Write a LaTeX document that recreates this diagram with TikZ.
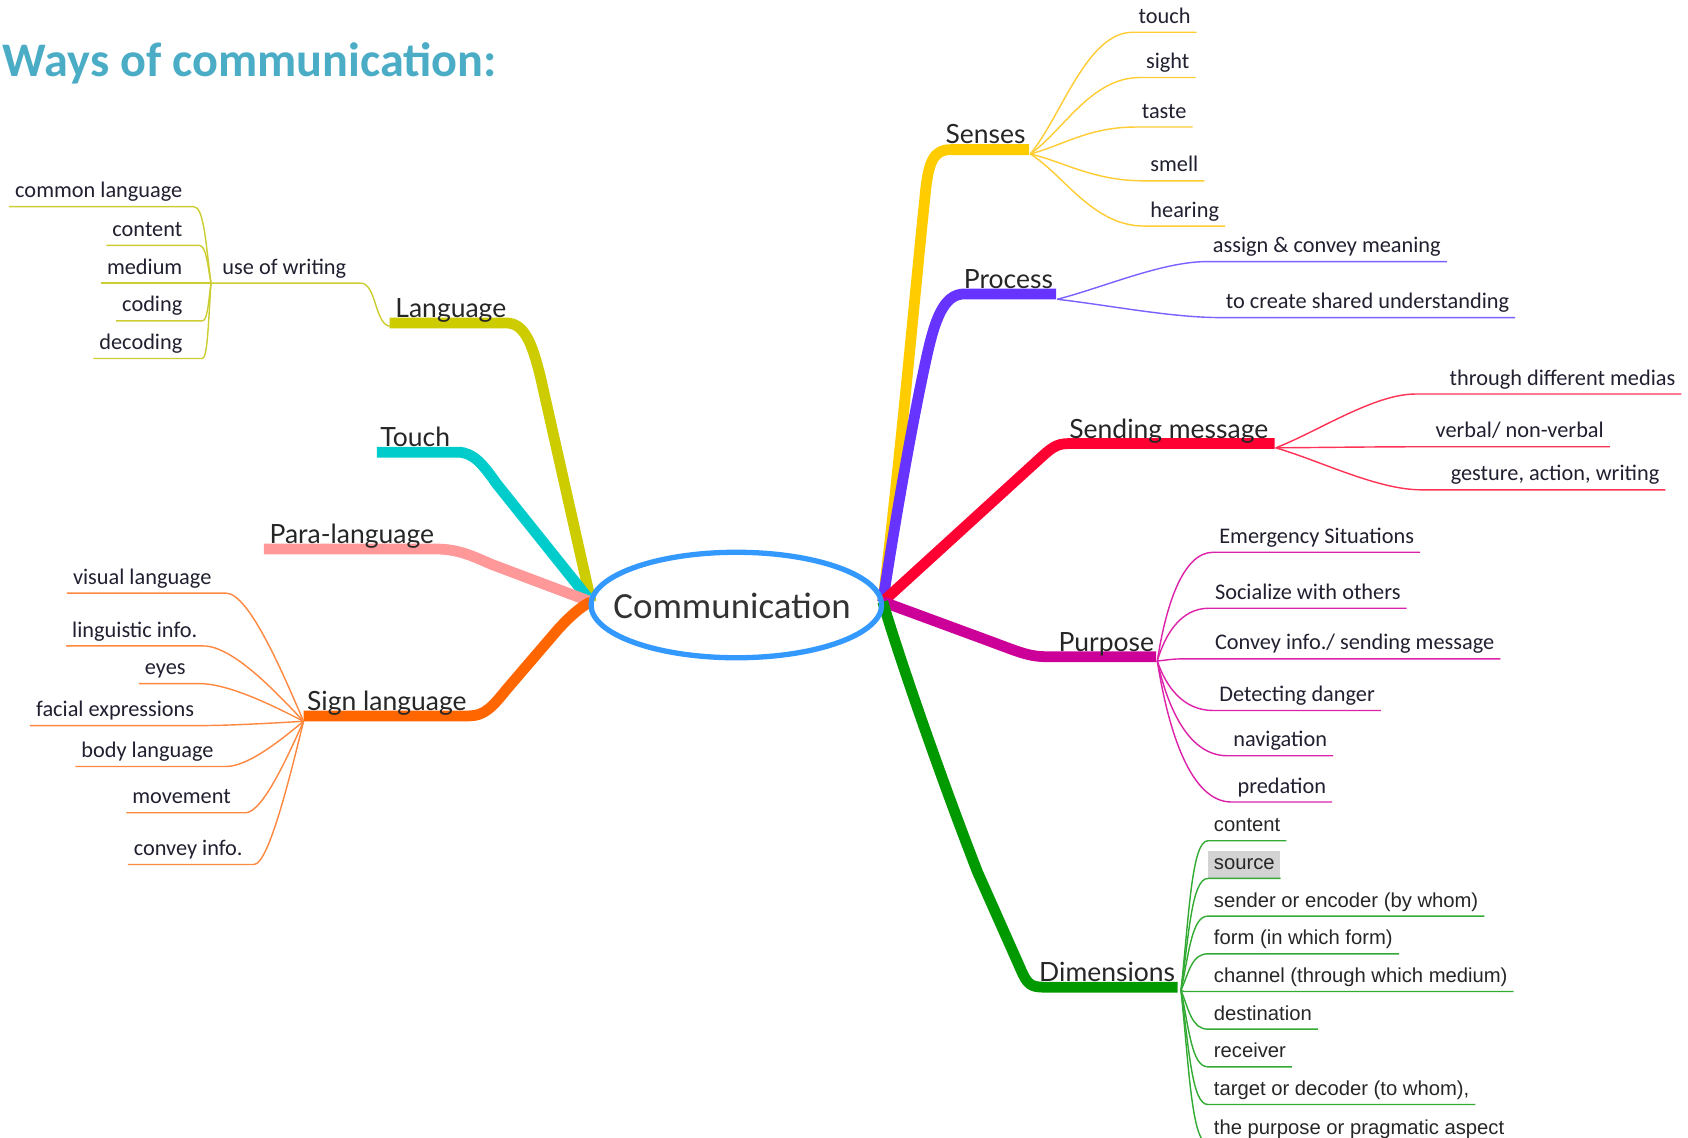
\documentclass[tikz,border=0pt]{standalone}
\usepackage{fontspec}
\setmainfont{Carlito}
\newfontfamily\latofont{Lato}
\newfontfamily\arialfont{Liberation Sans}
\usetikzlibrary{calc,shapes.geometric}
\definecolor{ttl}{HTML}{4BACC6}
\definecolor{ellc}{HTML}{3399FF}
\definecolor{txt}{HTML}{202030}
\definecolor{sensc}{HTML}{FFCC00}\definecolor{sensl}{HTML}{FFCC33}
\definecolor{procc}{HTML}{6633FF}\definecolor{procl}{HTML}{7B61FF}
\definecolor{sendc}{HTML}{FF0033}\definecolor{sendl}{HTML}{FF3355}
\definecolor{purpc}{HTML}{CC0099}\definecolor{purpl}{HTML}{DD22AA}
\definecolor{dimc}{HTML}{009900}\definecolor{diml}{HTML}{33AA33}
\definecolor{langc}{HTML}{CCCC00}\definecolor{langl}{HTML}{CCCC33}
\definecolor{touchc}{HTML}{00CCCC}
\definecolor{parac}{HTML}{FF9999}
\definecolor{signc}{HTML}{FF6600}\definecolor{signl}{HTML}{FF8840}
\definecolor{hilite}{HTML}{D3D3D3}
\newcommand\kdfont{\fontsize{11.8pt}{14pt}\selectfont}
\newcommand\brfont{\latofont\fontsize{14pt}{17pt}\selectfont}
\newcommand\dmfont{\arialfont\fontsize{10.7pt}{13pt}\selectfont}
\newcommand\lnk[7]{\draw[#1] let \p1=(#2),\p2=(#3) in (\p1) .. controls ({\x1+#5*(\x2-\x1)},{\y1+#6*(\y2-\y1)}) and ({\x2-#7*(\x2-\x1)},\y2) .. (\p2) -- (#4);}
\tikzset{
  thick branch/.style={line width=5.7pt, line cap=butt, line join=round},
  thin branch/.style={line width=0.75pt},
  kid/.style={font=\kdfont, text=txt, inner xsep=3pt, inner ysep=1.5pt, text height=8.5pt, text depth=3pt},
  kidR/.style={kid, anchor=south west},
  kidL/.style={kid, anchor=south east},
  dkid/.style={kidR, font=\dmfont, text=black!85},
  brlabel/.style={font=\brfont, text=black!85, inner sep=0, anchor=base west},
}
\begin{document}
\begin{tikzpicture}[x=0.02cm,y=-0.02cm]
\useasboundingbox (0,0) rectangle (1568,1057);

% junctions
\coordinate (L) at (549,559);
\coordinate (R) at (820,559);

% ---- thick main branches ----
\coordinate (sensE) at (956,139);
\draw[thick branch, sensc] (R) .. controls (836,430) and (852,250) .. (859,185) .. controls (862,150) and (867,139) .. (883,139) -- (sensE);
\coordinate (procE) at (981,273);
\draw[thick branch, procc] (R) .. controls (832,480) and (848,390) .. (860,335) .. controls (868,298) and (876,273) .. (896,273) -- (procE);
\coordinate (sendE) at (1184,412);
\draw[thick branch, sendc] (R) -- (968,424) .. controls (980,413) and (984,412) .. (996,412) -- (sendE);
\coordinate (purpE) at (1074,610);
\draw[thick branch, purpc] (R) -- (915,594) .. controls (945,605) and (955,610) .. (972,610) -- (purpE);
\coordinate (dimE) at (1094,917);
\draw[thick branch, dimc] (R) .. controls (835,610) and (873,720) .. (908,810) -- (948,900) .. controls (954,914) and (957,917) .. (970,917) -- (dimE);

\coordinate (langE) at (362,300);
\draw[thick branch, langc] (L) -- (502,350) .. controls (494,318) and (487,300) .. (470,300) -- (langE);
\coordinate (touchE) at (350,420);
\draw[thick branch, touchc] (L) -- (461,449) .. controls (449,432) and (440,420) .. (425,420) -- (touchE);
\coordinate (paraE) at (245,510);
\draw[thick branch, parac] (L) -- (456,524) .. controls (438,516) and (425,510) .. (405,510) -- (paraE);
\coordinate (signE) at (282,665);
\draw[thick branch, signc] (L) .. controls (540,563) and (530,572) .. (518,585) -- (470,641) .. controls (458,656) and (450,665) .. (436,665) -- (signE);

% ---- centre ----
\node[ellipse, draw=ellc, line width=2.8pt, minimum width=5.4cm, minimum height=1.96cm, inner sep=0] (comm) at (684,562) {};
\node[font=\fontsize{19.5pt}{23pt}\selectfont, text=black!80, inner sep=0] (commtxt) at (680,563) {Communication};

% ---- title ----
\node[anchor=base west, inner sep=0, text=ttl, font=\bfseries\fontsize{25.5pt}{30pt}\selectfont] (title) at (2,71) {Ways of communication:};

% ---- main labels ----
\node[brlabel] (senses) at (878,133) {Senses};
\node[brlabel] (process) at (895,268) {Process};
\node[brlabel] (sending) at (993,407) {Sending message};
\node[brlabel] (purpose) at (983,605) {Purpose};
\node[brlabel] (dimensions) at (965,912) {Dimensions};
\node[brlabel] (language) at (367,295) {Language};
\node[brlabel] (touch) at (353,415) {Touch};
\node[brlabel] (para) at (250,505) {Para-language};
\node[brlabel] (sign) at (285,660) {Sign language};

% ---- Senses children ----
\coordinate (sensJ) at (957,143);
\node[kidR] (s1) at (1052,30) {touch};
\node[kidR] (s2) at (1059,72) {sight};
\node[kidR] (s3) at (1055,118) {taste};
\node[kidR] (s4) at (1063,168) {smell};
\node[kidR] (s5) at (1063,210) {hearing};
\foreach \k in {s1,s2,s3,s4,s5}{\lnk{thin branch, sensl}{sensJ}{\k.south west}{\k.south east}{.3}{.3}{.45}}

% ---- Process children ----
\coordinate (procJ) at (982,278);
\node[kidR] (p1) at (1121,243) {assign \& convey meaning};
\node[kidR] (p2) at (1133,295) {to create shared understanding};
\foreach \k in {p1,p2}{\lnk{thin branch, procl}{procJ}{\k.south west}{\k.south east}{.3}{.3}{.3}}

% ---- Sending children ----
\coordinate (sendJ) at (1185,416);
\node[kidR] (m1) at (1341,366) {through different medias};
\node[kidR] (m2) at (1328,415) {verbal/ non-verbal};
\node[kidR] (m3) at (1342,455) {gesture, action, writing};
\lnk{thin branch, sendl}{sendJ}{$(m1.south west)+(-26,0)$}{m1.south east}{.3}{.3}{.3}
\lnk{thin branch, sendl}{sendJ}{$(m2.south west)+(-8,0)$}{m2.south east}{.3}{.3}{.3}
\lnk{thin branch, sendl}{sendJ}{$(m3.south west)+(-22,0)$}{m3.south east}{.3}{.3}{.3}

% ---- Purpose children ----
\coordinate (purpJ) at (1075,614);
\node[kidR] (u1) at (1127,513) {Emergency Situations};
\node[kidR] (u2) at (1123,565) {Socialize with others};
\node[kidR] (u3) at (1123,612) {Convey info./ sending message};
\node[kidR] (u4) at (1127,660) {Detecting danger};
\node[kidR] (u5) at (1140,702) {navigation};
\node[kidR] (u6) at (1144,745) {predation};
\foreach \k in {u1,u2,u4,u5,u6}{\lnk{thin branch, purpl}{purpJ}{\k.south west}{\k.south east}{.15}{.5}{.55}}
\lnk{thin branch, purpl}{purpJ}{$(u3.south west)+(-23,0)$}{u3.south east}{.3}{.3}{.5}

% ---- Dimensions children ----
\coordinate (dimJ) at (1097,920);
\node[dkid] (d1) at (1122,781) {content};
\node[dkid, fill=hilite] (d2) at (1122,816) {source};
\node[dkid] (d3) at (1122,851) {sender or encoder (by whom)};
\node[dkid] (d4) at (1122,886) {form (in which form)};
\node[dkid] (d5) at (1122,921) {channel (through which medium)};
\node[dkid] (d6) at (1122,956) {destination};
\node[dkid] (d7) at (1122,991) {receiver};
\node[dkid] (d8) at (1122,1026) {target or decoder (to whom),};
\node[dkid] (d9) at (1122,1062) {the purpose or pragmatic aspect};
\foreach \k in {d1,d2,d3,d4,d6,d7,d8,d9}{\lnk{thin branch, diml}{dimJ}{\k.south west}{\k.south east}{.3}{.5}{.6}}
\lnk{thin branch, diml}{dimJ}{$(d5.south west)+(-22,0)$}{d5.south east}{.3}{.3}{.5}

% ---- Sign language children ----
\coordinate (signJ) at (282,670);
\node[kidL] (g1) at (202,551) {visual language};
\node[kidL] (g2) at (189,600) {linguistic info.};
\node[kidL] (g3) at (178,635) {eyes};
\node[kidL] (g4) at (186,674) {facial expressions};
\node[kidL] (g5) at (204,712) {body language};
\node[kidL] (g6) at (220,755) {movement};
\node[kidL] (g7) at (231,803) {convey info.};
\lnk{thin branch, signl}{signJ}{$(g1.south east)+(8,0)$}{g1.south west}{.25}{.35}{.3}
\lnk{thin branch, signl}{signJ}{g2.south east}{g2.south west}{.25}{.35}{.3}
\lnk{thin branch, signl}{signJ}{$(g3.south east)+(7,0)$}{g3.south west}{.25}{.35}{.3}
\lnk{thin branch, signl}{signJ}{g4.south east}{g4.south west}{.25}{.35}{.3}
\lnk{thin branch, signl}{signJ}{$(g5.south east)+(6,0)$}{g5.south west}{.25}{.35}{.3}
\lnk{thin branch, signl}{signJ}{$(g6.south east)+(8,0)$}{g6.south west}{.25}{.35}{.3}
\lnk{thin branch, signl}{signJ}{$(g7.south east)+(5,0)$}{g7.south west}{.25}{.35}{.3}

% ---- Language sub-branch ----
\coordinate (useJ) at (196,263);
\coordinate (useE) at (335,263);
\coordinate (langJ) at (363,303);
\node[kidR] (uow) at (201,263) {use of writing};
\draw[thin branch, langl] (langJ) .. controls (348,303) and (350,263) .. (useE) -- (useJ);
\node[kidL] (w1) at (175,192) {common language};
\node[kidL] (w2) at (175,228) {content};
\node[kidL] (w3) at (175,263) {medium};
\node[kidL] (w4) at (175,298) {coding};
\node[kidL] (w5) at (175,333) {decoding};
\lnk{thin branch, langl}{useJ}{$(w1.south east)+(5,0)$}{w1.south west}{.3}{.5}{.6}
\lnk{thin branch, langl}{useJ}{$(w2.south east)+(10,0)$}{w2.south west}{.3}{.5}{.6}
\lnk{thin branch, langl}{useJ}{w3.south east}{w3.south west}{.3}{.5}{.6}
\lnk{thin branch, langl}{useJ}{$(w4.south east)+(13,0)$}{w4.south west}{.3}{.5}{.6}
\lnk{thin branch, langl}{useJ}{$(w5.south east)+(13,0)$}{w5.south west}{.3}{.5}{.6}
\end{tikzpicture}
\end{document}
